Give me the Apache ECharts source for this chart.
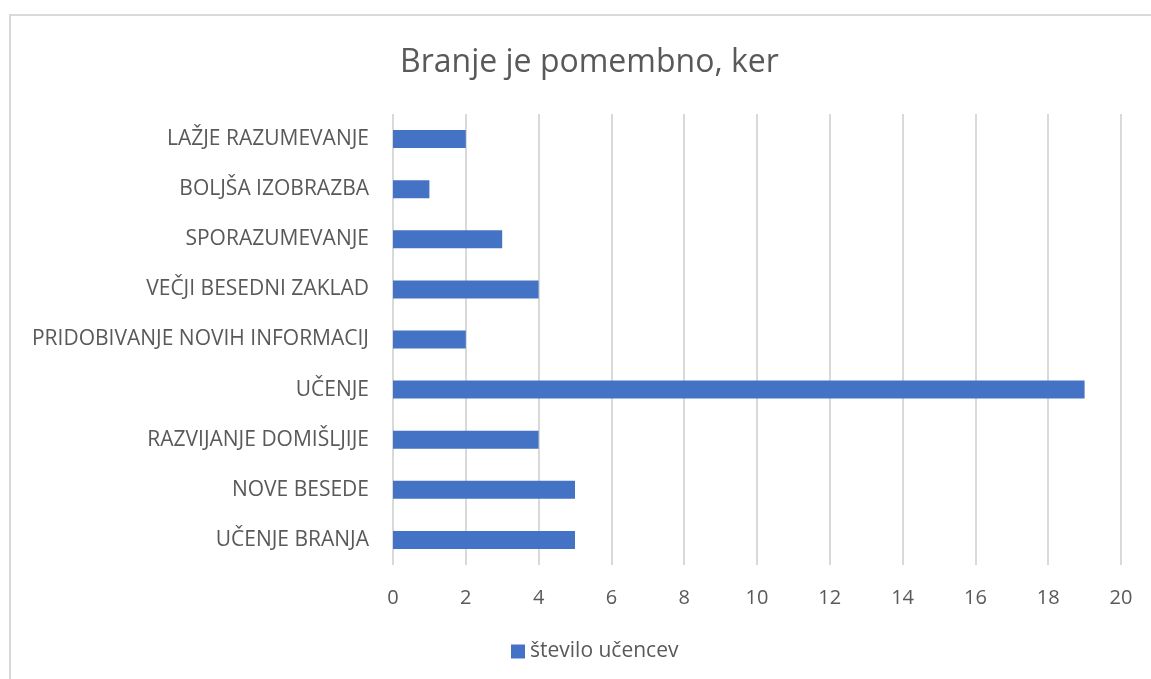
<!DOCTYPE html>
<html>
<head>
<meta charset="utf-8">
<script src="https://cdn.jsdelivr.net/npm/echarts@6/dist/echarts.min.js"></script>
<style>
    html, body { margin: 0; padding: 0; background: #fff; }
    #frame {
        position: absolute; left: 9px; top: 14px; width: 1160px; height: 700px;
        border: 2px solid #d9d9d9; box-sizing: border-box;
    }
    #chart { position: absolute; left: 0; top: 0; width: 1151px; height: 679px; }
</style>
</head>
<body>
<div id="frame"></div>
<div id="chart"></div>
<script>
// kategorije od spodaj navzgor
var categories = [
    "UČENJE BRANJA",
    "NOVE BESEDE",
    "RAZVIJANJE DOMIŠLJIJE",
    "UČENJE",
    "PRIDOBIVANJE NOVIH INFORMACIJ",
    "VEČJI BESEDNI ZAKLAD",
    "SPORAZUMEVANJE",
    "BOLJŠA IZOBRAZBA",
    "LAŽJE RAZUMEVANJE"
];
var stevilo = [5, 5, 4, 19, 2, 4, 3, 1, 2];
var seriesName = "število učencev";

var font = "'Open Sans', 'Noto Sans', sans-serif";
var chart = echarts.init(document.getElementById("chart"));

chart.setOption({
    backgroundColor: "transparent",
    animation: false,
    title: {
        text: "Branje je pomembno, ker",
        left: 395,
        top: 42,
        textStyle: { color: "#595959", fontSize: 32, fontWeight: "normal", fontFamily: font }
    },
    legend: {
        bottom: 12,
        left: 506,
        icon: "rect",
        itemWidth: 14,
        itemHeight: 14,
        itemGap: 6,
        textStyle: { color: "#595959", fontSize: 21, fontFamily: font },
        data: [seriesName]
    },
    grid: {
        left: 393,
        right: 30,
        top: 114,
        bottom: 114,
        containLabel: false
    },
    xAxis: {
        type: "value",
        min: 0,
        max: 20,
        interval: 2,
        axisLine: { show: false },
        axisTick: { show: false },
        axisLabel: { color: "#595959", fontSize: 20, margin: 23, fontFamily: font },
        splitLine: { show: true, lineStyle: { color: "#d9d9d9", width: 2 } }
    },
    yAxis: {
        type: "category",
        data: categories,
        axisLine: { show: false },
        axisTick: { show: false },
        axisLabel: { color: "#595959", fontSize: 21, margin: 24, fontFamily: font }
    },
    series: [
        {
            name: seriesName,
            type: "bar",
            data: stevilo,
            barWidth: 18,
            itemStyle: { color: "#4472c4" }
        }
    ]
});
</script>
</body>
</html>
